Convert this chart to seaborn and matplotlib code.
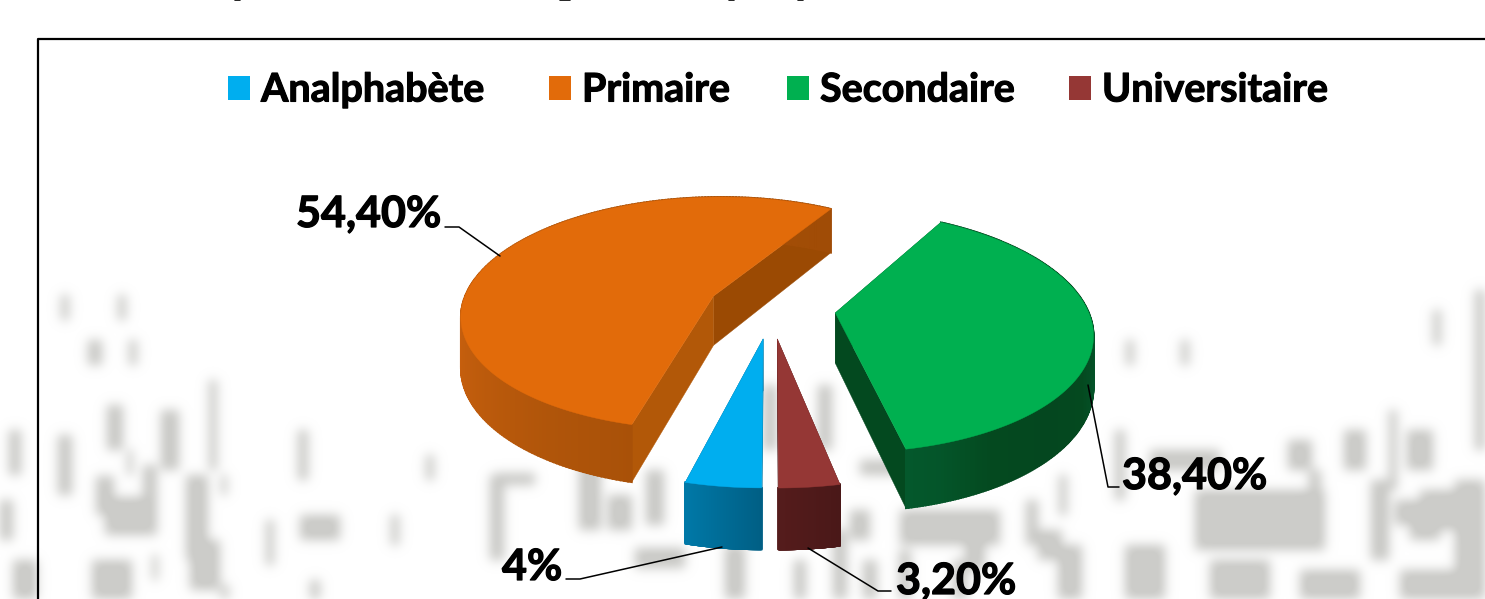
import matplotlib
matplotlib.use('Agg')
import matplotlib.pyplot as plt
import matplotlib.patheffects as pe
import numpy as np
import seaborn as sns

categories = ['Analphabète', 'Primaire', 'Secondaire', 'Universitaire']
values = [4, 54.4, 38.4, 3.2]
value_labels = ['4%', '54,40%', '38,40%', '3,20%']
explode = [0.24, 0.25, 0.257, 0.24]
top_colors = ['#00AEEF', '#E26B0A', '#00B050', '#953735']
# couleur des parois : gauche -> droite
wall_colors = [['#0079A8', '#005F85'], ['#C8600E', '#B0550A', '#A04C06'],
               ['#04582C', '#04491F', '#04471F', '#04491F', '#04542A'], ['#551C1C', '#4A1818']]
cut_colors = [['#0079A8', '#005F85'], ['#B25808', '#9B4A03'], ['#03491F', '#03491F'], ['#4F1A1A', '#4F1A1A']]
nudge_y = [2, -1, 0, 2]

# traits du texte flou en fond : x, y debut, y fin, largeur
ghost_strokes = [
    (65, 295, 320, 8), (122, 295, 320, 8), (95, 340, 365, 14), (133, 340, 365, 8),
    (15, 430, 475, 12), (5, 500, 540, 16), (65, 435, 495, 14), (105, 476, 515, 18),
    (115, 405, 450, 16), (130, 450, 475, 6), (125, 497, 535, 40), (150, 465, 535, 14),
    (170, 410, 470, 18), (197, 475, 560, 22), (205, 540, 590, 30), (213, 380, 470, 8),
    (224, 475, 495, 6), (303, 430, 480, 10), (270, 520, 565, 8), (320, 515, 540, 40),
    (395, 515, 545, 8), (430, 455, 480, 8), (155, 555, 580, 6), (112, 560, 599, 40),
    (25, 560, 599, 25), (315, 580, 599, 10), (225, 585, 599, 8),
    (515, 473, 485, 40), (497, 475, 560, 14), (590, 465, 530, 22), (620, 495, 530, 25),
    (655, 470, 525, 18), (660, 548, 568, 50), (735, 545, 599, 20), (800, 560, 599, 12),
    (840, 530, 599, 15), (860, 510, 540, 20), (880, 460, 475, 40), (950, 510, 545, 100),
    (770, 385, 450, 14), (825, 385, 450, 14), (870, 560, 599, 15), (905, 550, 599, 12),
    (960, 560, 599, 15), (1120, 430, 500, 10), (1063, 475, 515, 8), (1032, 500, 545, 12),
    (1050, 530, 560, 25), (1070, 545, 599, 25), (975, 510, 570, 20), (1145, 545, 599, 40),
    (1185, 450, 470, 70), (1260, 490, 550, 130), (1240, 560, 599, 60), (1330, 570, 599, 60),
    (1300, 440, 470, 25), (1315, 470, 530, 12), (1355, 430, 470, 22), (1393, 410, 490, 8),
    (1420, 430, 470, 26), (1380, 480, 560, 18), (1440, 490, 530, 40), (1425, 510, 540, 30),
    (1470, 480, 560, 30), (1480, 290, 450, 10), (1437, 310, 345, 8), (1130, 340, 365, 8),
    (1185, 340, 365, 8), (1430, 570, 599, 60), (1410, 500, 525, 30), (1470, 560, 599, 30),
]
title_bits = [(235, 240), (560, 570), (729, 734), (798, 803)]
legend_x = [228, 549, 787, 1069]

sns.set_theme(style='white')
plt.rcParams['font.family'] = ['Lato', 'DejaVu Sans']

fig = plt.figure(figsize=(14.85, 5.99), dpi=100)
ax = fig.add_axes([0, 0, 1, 1])

# fond : traits puis flou
ghost = np.zeros((599, 1485))
for sx, y0, y1, sw in ghost_strokes:
    ghost[y0:y1, max(0, sx - sw // 2):sx + sw // 2] = 1
kernel = np.exp(-np.arange(-18, 19) ** 2 / (2 * 5.5 ** 2))
kernel = kernel / kernel.sum()
ghost = np.apply_along_axis(np.convolve, 0, ghost, kernel, mode='same')
ghost = np.apply_along_axis(np.convolve, 1, ghost, kernel, mode='same')
ax.imshow(ghost, cmap=sns.blend_palette(['#FFFFFF', '#CCCCC9'], as_cmap=True), vmin=0, vmax=0.9,
          extent=(0, 1485, 599, 0), aspect='auto', zorder=0)

# le camembert donne les angles et les centres, la perspective est appliquee ensuite
pie_ax = fig.add_axes([0, 0, 0.01, 0.01])
wedges, _ = pie_ax.pie(values, explode=explode, startangle=270, counterclock=False)
pie_ax.set_visible(False)

CX, CY, RX, RY, P, DEPTH = 771, 308, 252, 117, 0.15, 50


def project(x, y, nudge=0, down=0):
    k = 1 + P * y
    return CX + RX * x / k, CY + nudge - RY * y / k + down / k


for i, w in enumerate(wedges):
    wx, wy = w.center
    theta = np.radians(np.linspace(w.theta1, w.theta2, 240))
    xs, ys = wx + np.cos(theta), wy + np.sin(theta)
    n = nudge_y[i]

    # faces de coupe
    for j, t in enumerate([theta[0], theta[-1]]):
        ex, ey = wx + np.cos(t), wy + np.sin(t)
        p0 = project(wx, wy, n)
        p1 = project(ex, ey, n)
        p2 = project(ex, ey, n, DEPTH)
        p3 = project(wx, wy, n, DEPTH)
        # l'ordre des couleurs suit le sens horaire du camembert
        col = cut_colors[i][1 - j]
        ax.fill([p0[0], p1[0], p2[0], p3[0]], [p0[1], p1[1], p2[1], p3[1]], color=col, lw=0.3, zorder=2)

    # paroi exterieure
    tx, ty = project(xs, ys, n)
    bx, by = project(xs, ys, n, DEPTH)
    order = np.argsort(tx)
    steps = sns.blend_palette(wall_colors[i], n_colors=len(tx))
    for k in range(len(tx) - 1):
        shade = steps[int(np.searchsorted(tx[order], tx[k]))]
        ax.fill([tx[k], tx[k + 1], bx[k + 1], bx[k]], [ty[k], ty[k + 1], by[k + 1], by[k]],
                color=shade, lw=1.3, zorder=3)

    # dessus
    ax0, ay0 = project(wx, wy, n)
    ax.fill(np.r_[ax0, tx], np.r_[ay0, ty], color=top_colors[i], lw=0.3, zorder=4)

# cadre
ax.plot([38, 38, 1490], [610, 39, 39], color='black', lw=1.6, zorder=5)

# bas du titre coupe par le bord
for x0, x1 in title_bits:
    ax.plot([x0, x1], [0.3, 0.3], color='black', lw=1.2, zorder=5)

# etiquettes et lignes de rappel
bold = [pe.withStroke(linewidth=0.9, foreground='black')]
label_style = dict(fontsize=31, fontweight='bold', color='black', va='center', zorder=7, path_effects=bold)
ax.text(441, 214, value_labels[1], ha='right', **label_style)
ax.text(1122, 476, value_labels[2], ha='left', **label_style)
ax.text(562, 567, value_labels[0], ha='right', **label_style)
ax.text(896, 581, value_labels[3], ha='left', **label_style)
ax.plot([445, 459, 500], [227, 227, 256], color='black', lw=1.1, zorder=6)
ax.plot([1119, 1108, 1088], [487, 487, 385], color='black', lw=1.1, zorder=6)
ax.plot([566, 580, 722], [579, 579, 547], color='black', lw=1.1, zorder=6)
ax.plot([891, 878, 808], [591, 591, 548], color='black', lw=1.1, zorder=6)

# legende
for lx, name, col in zip(legend_x, categories, top_colors):
    ax.fill([lx, lx + 22, lx + 22, lx], [76, 76, 100, 100], color=col, lw=0, zorder=7)
    ax.text(lx + 33, 90, name, fontsize=28.4, fontweight='bold', color='black', va='center', zorder=7,
            path_effects=[pe.withStroke(linewidth=0.8, foreground='black')])

ax.set_xlim(0, 1485)
ax.set_ylim(599, 0)
ax.axis('off')

fig.savefig('out.png', dpi=100)
